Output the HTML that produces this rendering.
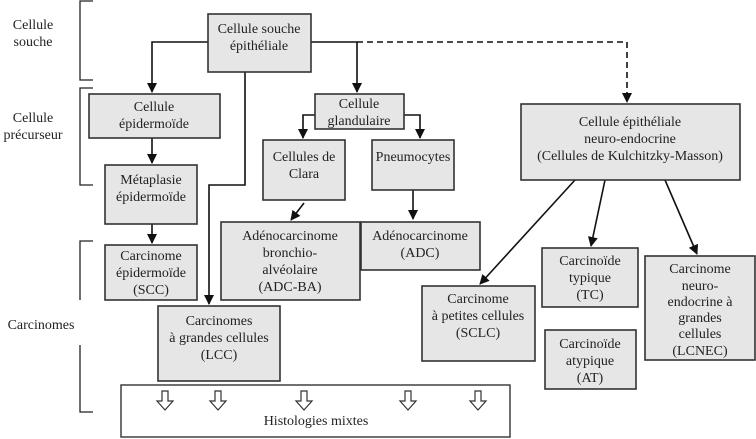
<!DOCTYPE html>
<html><head><meta charset="utf-8"><style>
html,body{margin:0;padding:0;background:#fff;}
svg{display:block;}
text{font-family:"Liberation Serif","DejaVu Serif",serif;font-size:14px;fill:#222;text-anchor:middle;}
.b{fill:#e6e6e6;stroke:#333;stroke-width:1.6;}
.l{fill:none;stroke:#111;stroke-width:1.6;}
.br{fill:none;stroke:#222;stroke-width:1.3;}
</style></head><body>
<svg width="756" height="439" viewBox="0 0 756 439" xmlns="http://www.w3.org/2000/svg">
<defs><marker id="a" markerWidth="10" markerHeight="10" refX="9" refY="5" orient="auto" markerUnits="userSpaceOnUse"><path d="M0,0 L10,5 L0,10 z" fill="#111"/></marker></defs>
<path class="br" d="M93,1 H80 V80 H93"/>
<path class="br" d="M93,88 H80 V185 H93"/>
<path class="br" d="M93,241 H80 V300 M80,345 V412 H93"/>
<text x="33" y="29">Cellule</text><text x="33" y="46">souche</text>
<text x="33" y="122">Cellule</text><text x="33" y="139">précurseur</text>
<text x="41" y="329">Carcinomes</text>
<path class="l" d="M208,42 H152 V92" marker-end="url(#a)"/>
<path class="l" d="M311,42 H357 V92" marker-end="url(#a)"/>
<path class="l" d="M357,42 H627 V102" stroke-dasharray="6,4" marker-end="url(#a)"/>
<path class="l" d="M245,72 V185 H209 V304" marker-end="url(#a)"/>
<path class="l" d="M152,138 V163" marker-end="url(#a)"/>
<path class="l" d="M152,224 V243" marker-end="url(#a)"/>
<path class="l" d="M315,115 H303 V138" marker-end="url(#a)"/>
<path class="l" d="M404,115 H420 V138" marker-end="url(#a)"/>
<path class="l" d="M304,203 L291,220" marker-end="url(#a)"/>
<path class="l" d="M413,190 V219" marker-end="url(#a)"/>
<path class="l" d="M575,180 L480,284" marker-end="url(#a)"/>
<path class="l" d="M605,180 L591,246" marker-end="url(#a)"/>
<path class="l" d="M665,180 L697,254" marker-end="url(#a)"/>
<rect class="b" x="208" y="14" width="103" height="58"/>
<text x="259" y="33">Cellule souche</text><text x="259" y="50">épithéliale</text>
<rect class="b" x="89" y="94" width="131" height="44"/>
<text x="154" y="111">Cellule</text><text x="154" y="128">épidermoïde</text>
<rect class="b" x="105" y="165" width="92" height="59"/>
<text x="151" y="184">Métaplasie</text><text x="151" y="201">épidermoïde</text>
<rect class="b" x="105" y="245" width="92" height="55"/>
<text x="151" y="260">Carcinome</text><text x="151" y="277">épidermoïde</text><text x="151" y="294">(SCC)</text>
<rect class="b" x="158" y="306" width="122" height="75"/>
<text x="219" y="325">Carcinomes</text><text x="219" y="342">à grandes cellules</text><text x="219" y="359">(LCC)</text>
<rect class="b" x="315" y="94" width="89" height="35"/>
<text x="359" y="108">Cellule</text><text x="359" y="125">glandulaire</text>
<rect class="b" x="263" y="140" width="82" height="60"/>
<text x="304" y="161">Cellules de</text><text x="304" y="178">Clara</text>
<rect class="b" x="372" y="140" width="82" height="50"/>
<text x="413" y="161">Pneumocytes</text>
<rect class="b" x="221" y="222" width="139" height="78"/>
<text x="290" y="240">Adénocarcinome</text><text x="290" y="257">bronchio-</text><text x="290" y="274">alvéolaire</text><text x="290" y="291">(ADC-BA)</text>
<rect class="b" x="361" y="222" width="119" height="48"/>
<text x="420" y="240">Adénocarcinome</text><text x="420" y="257">(ADC)</text>
<rect class="b" x="521" y="104" width="219" height="76"/>
<text x="630" y="126">Cellule épithéliale</text><text x="630" y="143">neuro-endocrine</text><text x="630" y="160">(Cellules de Kulchitzky-Masson)</text>
<rect class="b" x="422" y="286" width="113" height="75"/>
<text x="478" y="303">Carcinome</text><text x="478" y="320">à petites cellules</text><text x="478" y="337">(SCLC)</text>
<rect class="b" x="542" y="248" width="96" height="59"/>
<text x="590" y="265">Carcinoïde</text><text x="590" y="282">typique</text><text x="590" y="299">(TC)</text>
<rect class="b" x="545" y="330" width="91" height="59"/>
<text x="590" y="348">Carcinoïde</text><text x="590" y="365">atypique</text><text x="590" y="382">(AT)</text>
<rect class="b" x="645" y="256" width="110" height="104"/>
<text x="700" y="273">Carcinome</text><text x="700" y="290">neuro-</text><text x="700" y="306">endocrine à</text><text x="700" y="322">grandes</text><text x="700" y="338">cellules</text><text x="700" y="355">(LCNEC)</text>
<rect x="121" y="385" width="389" height="52" fill="#fff" stroke="#333" stroke-width="1.4"/>
<g fill="#fff" stroke="#333" stroke-width="1.2">
<path d="M162,391 h6 v10 h5 l-8,9 l-8,-9 h5 z"/>
<path d="M215,391 h6 v10 h5 l-8,9 l-8,-9 h5 z"/>
<path d="M301,391 h6 v10 h5 l-8,9 l-8,-9 h5 z"/>
<path d="M405,391 h6 v10 h5 l-8,9 l-8,-9 h5 z"/>
<path d="M475,391 h6 v10 h5 l-8,9 l-8,-9 h5 z"/>
</g>
<text x="316" y="425">Histologies mixtes</text>
</svg>
</body></html>
